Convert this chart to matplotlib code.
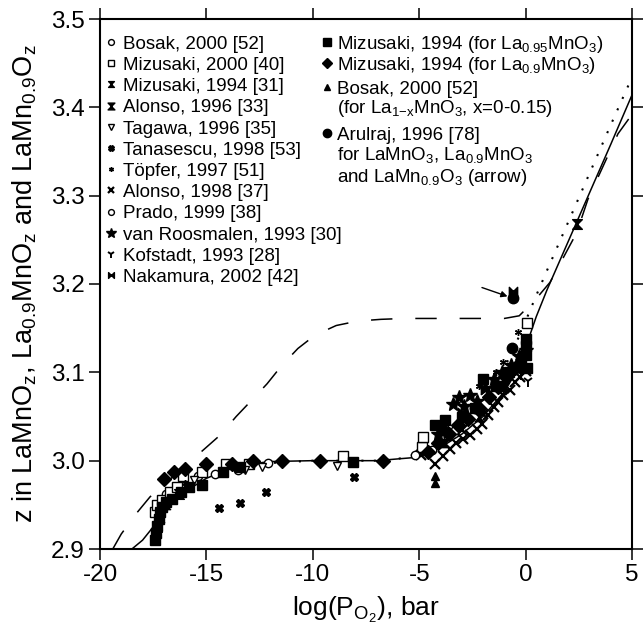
import matplotlib
matplotlib.use("Agg")
import matplotlib.pyplot as plt
from matplotlib.path import Path

plt.rcParams["font.family"] = ["Liberation Sans", "DejaVu Sans"]
plt.rcParams["mathtext.fontset"] = "custom"
plt.rcParams["mathtext.rm"] = "Liberation Sans"
plt.rcParams["mathtext.it"] = "Liberation Sans:italic"
plt.rcParams["axes.unicode_minus"] = False

# --- curves ---------------------------------------------------------------
solid_x = [-18.5, -18.0, -17.5, -17.0, -16.5, -16.0, -15.0, -14.0, -13.0, -12.0, -10.0,
           -7.0, -5.0, -4.0, -3.0, -2.0, -1.0, -0.5, 0.0, 0.5, 1.0, 2.0, 3.0, 4.0, 5.0]
solid_z = [2.900, 2.910, 2.925, 2.942, 2.955, 2.965, 2.980, 2.990, 2.996, 2.999, 3.000,
           3.000, 3.004, 3.015, 3.030, 3.050, 3.078, 3.098, 3.128, 3.163, 3.193, 3.248,
           3.303, 3.358, 3.414]

dotted_x = [-13.0, -10.0, -7.0, -6.0, -5.0, -4.0, -3.0, -2.0, -1.0, -0.5, 0.0, 0.5, 1.0,
            2.0, 3.0, 4.0, 5.0]
dotted_z = [2.996, 3.000, 3.000, 3.002, 3.008, 3.022, 3.042, 3.068, 3.105, 3.130, 3.158,
            3.187, 3.215, 3.270, 3.325, 3.380, 3.434]

dashed_x = [-19.4, -19.0, -18.3, -17.65, -15.15, -14.35, -13.6, -12.85, -12.15, -11.45,
            -10.7, -9.9, -8.9, -7.9, -6.8, -5.7, -3.0, -1.0, -0.3, 0.45, 1.15, 2.4, 2.93,
            4.34, 5.0]
dashed_z = [2.900, 2.917, 2.940, 2.959, 3.012, 3.029, 3.050, 3.069, 3.087, 3.108, 3.127,
            3.142, 3.153, 3.158, 3.160, 3.161, 3.161, 3.161, 3.164, 3.182, 3.202, 3.258,
            3.296, 3.370, 3.392]

# --- data points (log pO2, z) ---------------------------------------------
bosak_x = [-16.9, -15.4, -12.1, -4.4]
bosak_z = [2.962, 2.983, 2.997, 3.012]
miz2000_x = [-17.4, -17.3, -17.1, -16.7, -16.4, -16.1, -15.2, -14.1, -13.0, -8.6, -4.85,
             -4.8, -3.9, 0.07]
miz2000_z = [2.942, 2.950, 2.955, 2.964, 2.970, 2.983, 2.987, 2.996, 2.996, 3.005, 3.015,
             3.027, 3.035, 3.156]
miz1994_x = [-17.4, -17.2, -16.9, -3.8, -2.2, -0.3]
miz1994_z = [2.918, 2.935, 2.950, 3.020, 3.050, 3.105]
alonso96_x = [2.4, -17.3, -16.3, -1.0]
alonso96_z = [3.268, 2.925, 2.962, 3.085]
tagawa_x = [-15.6, -13.2, -12.4, -8.85]
tagawa_z = [2.978, 2.990, 2.993, 2.994]
tanas_x = [-14.4, -13.4, -12.2, -8.05]
tanas_z = [2.946, 2.952, 2.965, 2.981]
topfer_x = [-16.0, -2.2, -1.4, -1.05, -0.35]
topfer_z = [2.975, 3.085, 3.100, 3.112, 3.146]
alonso98_x = [-4.9, -4.25, -3.9, -3.55, -3.25, -2.95, -2.6, -2.3, -2.05, -1.75, -1.5, -1.3,
              -1.05, -0.75, -0.5, -0.25, 0.03, -3.0, -2.0, -1.0, -0.2]
alonso98_z = [3.006, 2.996, 3.005, 3.013, 3.020, 3.025, 3.029, 3.036, 3.041, 3.052, 3.061,
              3.066, 3.074, 3.080, 3.089, 3.095, 3.102, 3.035, 3.053, 3.082, 3.110]
prado_x = [-14.6, -13.5, -5.2, -3.3]
prado_z = [2.985, 2.990, 3.006, 3.035]
roos_x = [-4.1, -3.4, -3.15, -2.9, -2.6, -2.3, -1.9, -1.5, -1.1, -0.7, -0.3, 0.0]
roos_z = [3.030, 3.064, 3.072, 3.062, 3.074, 3.068, 3.082, 3.092, 3.100, 3.108, 3.118, 3.125]
kof_x = [-17.3, -0.2, 0.1]
kof_z = [2.915, 3.098, 3.090]
naka_x = [-3.0, -1.9, -0.6]
naka_z = [3.055, 3.080, 3.192]
m095_x = [-17.4, -17.35, -17.3, -17.25, -17.2, -17.1, -16.9, -16.6, -16.2, -15.8, -15.2,
          -14.2, -13.4, -8.1, -4.25, -3.8, -3.0, -2.4, -2.0, -1.4, -0.8, -0.2, 0.0, 0.0,
          0.0, 0.05]
m095_z = [2.910, 2.918, 2.926, 2.934, 2.942, 2.948, 2.953, 2.957, 2.964, 2.970, 2.973,
          2.987, 2.993, 2.998, 3.040, 3.046, 3.050, 3.060, 3.092, 3.085, 3.100, 3.110,
          3.120, 3.130, 3.138, 3.105]
m09_x = [-17.0, -16.5, -16.0, -15.0, -13.8, -12.8, -11.45, -9.66, -6.7, -4.6, -4.1, -3.6,
         -3.2, -2.7, -2.2, -1.7, -1.3, -0.9, -0.5, -0.1]
m09_z = [2.979, 2.987, 2.991, 2.996, 2.996, 3.000, 3.000, 3.000, 3.000, 3.010, 3.020,
         3.030, 3.040, 3.047, 3.060, 3.072, 3.083, 3.095, 3.105, 3.118]
bosakx_x = [-4.25, -4.25]
bosakx_z = [2.975, 2.983]
arul_x = [-3.9, -2.4, -0.65, -0.6]
arul_z = [3.035, 3.060, 3.127, 3.184]

# custom markers
HOURGLASS = Path([(-1, 1), (1, 1), (-1, -1), (1, -1), (-1, 1)],
                 [Path.MOVETO, Path.LINETO, Path.LINETO, Path.LINETO, Path.CLOSEPOLY])
BOWTIE = Path([(-1, 1), (-1, -1), (1, 1), (1, -1), (-1, 1)],
              [Path.MOVETO, Path.LINETO, Path.LINETO, Path.LINETO, Path.CLOSEPOLY])

open_kw = dict(mfc="white", mec="black", mew=1.0)
fill_kw = dict(mfc="black", mec="black")

col1 = [
    ("Bosak, 2000 [52]", bosak_x, bosak_z, dict(marker="o", ms=6, **open_kw)),
    ("Mizusaki, 2000 [40]", miz2000_x, miz2000_z, dict(marker="s", ms=6.5, **open_kw)),
    ("Mizusaki, 1994 [31]", miz1994_x, miz1994_z, dict(marker=HOURGLASS, ms=6, **fill_kw)),
    ("Alonso, 1996 [33]", alonso96_x, alonso96_z, dict(marker=HOURGLASS, ms=7, **fill_kw)),
    ("Tagawa, 1996 [35]", tagawa_x, tagawa_z, dict(marker="v", ms=6, **open_kw)),
    ("Tanasescu, 1998 [53]", tanas_x, tanas_z, dict(marker="X", ms=6, **fill_kw)),
    ("Töpfer, 1997 [51]", topfer_x, topfer_z, dict(marker=(6, 2, 0), ms=5, mec="black", mew=1.0)),
    ("Alonso, 1998 [37]", alonso98_x, alonso98_z, dict(marker="x", ms=7, mec="black", mew=1.6)),
    ("Prado, 1999 [38]", prado_x, prado_z, dict(marker="o", ms=6, **open_kw)),
    ("van Roosmalen, 1993 [30]", roos_x, roos_z, dict(marker="*", ms=10, **fill_kw)),
    ("Kofstadt, 1993 [28]", kof_x, kof_z, dict(marker="1", ms=8, mec="black", mew=1.4)),
    ("Nakamura, 2002 [42]", naka_x, naka_z, dict(marker=BOWTIE, ms=6, **fill_kw)),
]
col2 = [
    (m095_x, m095_z, dict(marker="s", ms=6.5, **fill_kw)),
    (m09_x, m09_z, dict(marker="D", ms=7, **fill_kw)),
    (bosakx_x, bosakx_z, dict(marker="^", ms=5.5, **fill_kw)),
    (arul_x, arul_z, dict(marker="o", ms=7.5, **fill_kw)),
]
col2_lines = [
    "Mizusaki, 1994 (for La$_{0.95}$MnO$_3$)",
    "Mizusaki, 1994 (for La$_{0.9}$MnO$_3$)",
    "Bosak, 2000 [52]",
    "(for La$_{1\\mathrm{-x}}$MnO$_3$, x=0-0.15)",
    "Arulraj, 1996 [78]",
    "for LaMnO$_3$, La$_{0.9}$MnO$_3$",
    "and LaMn$_{0.9}$O$_3$ (arrow)",
]

fig = plt.figure(figsize=(6.44, 6.43), dpi=100)
ax = fig.add_axes([100 / 644, 94 / 643, 532 / 644, 530 / 643])

ax.plot(solid_x, solid_z, color="black", lw=1.1, zorder=2)
ax.plot(dotted_x, dotted_z, color="black", lw=1.5, ls=(0, (1, 5)), zorder=2)
ax.plot(dashed_x, dashed_z, color="black", lw=1.1, ls=(0, (14, 15)), zorder=2)

for _, x, z, kw in col1:
    ax.plot(x, z, ls="none", zorder=3, **kw)
for x, z, kw in col2:
    ax.plot(x, z, ls="none", zorder=3, **kw)

ax.annotate("", xy=(-0.85, 3.186), xytext=(-2.05, 3.196),
            arrowprops=dict(arrowstyle="-|>", color="black", lw=1.0,
                            mutation_scale=9, shrinkA=0, shrinkB=0))

# hand-made legend, rows measured in pixels of the original figure
def fy(py):
    return (549 - py) / 530

def fx(px):
    return (px - 100) / 532

for i, (label, _, _, kw) in enumerate(col1):
    cy = 42 + 21.2 * i
    lkw = dict(kw)
    lkw["ms"] = kw["ms"] * 0.7
    ax.plot([fx(111)], [fy(cy)], transform=ax.transAxes, ls="none", clip_on=False, **lkw)
    ax.text(fx(123), fy(cy + 6.8), label, transform=ax.transAxes, fontsize=13.5,
            va="baseline", ha="left")

col2_rows = [42, 63, 87, 106, 133, 153, 175]
marker_rows = [0, 1, 2, 4]
for (x, z, kw), r in zip(col2, marker_rows):
    lkw = dict(kw)
    lkw["ms"] = kw["ms"] * 0.8
    ax.plot([fx(327)], [fy(col2_rows[r])], transform=ax.transAxes, ls="none",
            clip_on=False, **lkw)
for line, cy in zip(col2_lines, col2_rows):
    ax.text(fx(337), fy(cy + 6.8), line, transform=ax.transAxes, fontsize=13.5,
            va="baseline", ha="left")

ax.set_xlim(-20, 5)
ax.set_ylim(2.9, 3.5)
ax.set_xticks([-20, -15, -10, -5, 0, 5])
ax.set_yticks([2.9, 3.0, 3.1, 3.2, 3.3, 3.4, 3.5])
ax.set_yticklabels(["2.9", "3.0", "3.1", "3.2", "3.3", "3.4", "3.5"])
ax.tick_params(direction="out", length=8, width=1.1, labelsize=17.5, pad=3,
               top=True, right=True)
for sp in ax.spines.values():
    sp.set_linewidth(1.5)

ax.set_xlabel("log(P$_{\\mathrm{O_2}}$), bar", fontsize=19)
ax.set_ylabel("z in LaMnO$_\\mathrm{z}$, La$_{0.9}$MnO$_\\mathrm{z}$ and LaMn$_{0.9}$O$_\\mathrm{z}$",
              fontsize=19.5)
ax.xaxis.set_label_coords(0.5, -0.086)
ax.yaxis.set_label_coords(-0.115, 0.5)

fig.savefig("out.png", dpi=100, facecolor="white")
